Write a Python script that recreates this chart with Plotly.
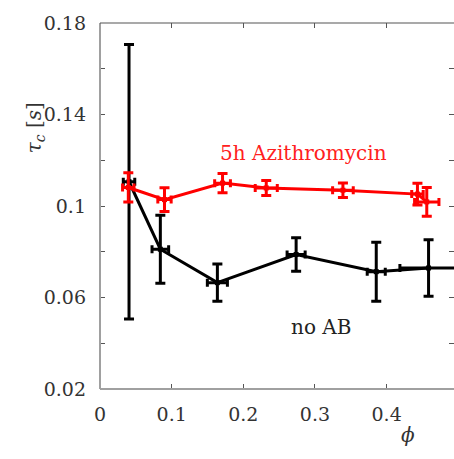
import plotly.graph_objects as go

# 5h Azithromycin (red)
red_phi = [0.0395, 0.090, 0.171, 0.232, 0.339, 0.443, 0.456]
red_tau = [0.1081, 0.1028, 0.1100, 0.1079, 0.1069, 0.1052, 0.1018]
red_ephi = [0.008, 0.0093, 0.011, 0.0154, 0.0144, 0.008, 0.017]
red_etau = [0.0064, 0.0052, 0.0042, 0.0033, 0.0032, 0.0048, 0.0063]

# no AB (black)
blk_phi = [0.0405, 0.0842, 0.1638, 0.2737, 0.3855, 0.4585]
blk_tau = [0.1106, 0.0811, 0.0665, 0.0788, 0.0713, 0.0729]
blk_ephi = [0.008, 0.0116, 0.014, 0.0126, 0.0126, 0.040]
blk_etau = [0.060, 0.0149, 0.0081, 0.0073, 0.0129, 0.0124]

y_ticks = [0.02, 0.06, 0.10, 0.14, 0.18]
y_ticktext = ["0.02", "0.06", "0.1", "0.14", "0.18"]
x_ticks = [0, 0.1, 0.2, 0.3, 0.4]
x_ticktext = ["0", "0.1", "0.2", "0.3", "0.4"]

FONT = "DejaVu Serif"

fig = go.Figure()
fig.add_trace(go.Scatter(
    x=blk_phi, y=blk_tau, mode="lines+markers",
    line=dict(color="black", width=3),
    marker=dict(color="black", size=5, symbol="square"),
    error_x=dict(type="data", array=blk_ephi, color="black", thickness=3, width=4),
    error_y=dict(type="data", array=blk_etau, color="black", thickness=3, width=5),
    showlegend=False,
))
fig.add_trace(go.Scatter(
    x=red_phi, y=red_tau, mode="lines+markers",
    line=dict(color="#ff0000", width=3),
    marker=dict(color="#ff0000", size=5, symbol="square"),
    error_x=dict(type="data", array=red_ephi, color="#ff0000", thickness=3, width=4),
    error_y=dict(type="data", array=red_etau, color="#ff0000", thickness=3, width=5),
    showlegend=False,
))

fig.add_annotation(x=0.284, y=0.1232, xref="x", yref="y", text="5h Azithromycin",
                   showarrow=False, font=dict(family=FONT, size=20, color="#ff2020"))
fig.add_annotation(x=0.309, y=0.047, xref="x", yref="y", text="no AB",
                   showarrow=False, font=dict(family=FONT, size=20, color="#222"))
fig.add_annotation(x=-0.226, y=0.79, xref="paper", yref="paper",
                   text="<i>τ</i><sub><i>c</i></sub> [<i>s</i>]", textangle=-90,
                   showarrow=False, font=dict(family=FONT, size=20, color="#333"))
fig.add_annotation(x=0.8955, y=-0.163, xref="paper", yref="paper", text="<i>ϕ</i>",
                   showarrow=False, font=dict(family=FONT, size=20, color="#333"))

# frame lines
fig.add_shape(type="line", xref="paper", yref="paper", x0=0, x1=0, y0=0, y1=1,
              line=dict(color="#a0a0a0", width=2))
fig.add_shape(type="line", xref="paper", yref="paper", x0=0, x1=1, y0=0, y1=0,
              line=dict(color="#a0a0a0", width=2))
fig.add_shape(type="line", xref="paper", yref="paper", x0=0, x1=1, y0=1, y1=1,
              line=dict(color="#555", width=1.2))

fig.update_layout(
    width=454, height=459,
    margin=dict(l=100, r=0, t=23, b=70),
    paper_bgcolor="white", plot_bgcolor="white",
    font=dict(family=FONT, size=19, color="#333"),
    xaxis=dict(range=[0, 0.494], tickvals=x_ticks, ticktext=x_ticktext,
               ticks="inside", ticklen=5, tickcolor="#555", tickwidth=1,
               mirror="ticks", showline=False, showgrid=False, zeroline=False,
               ticklabelstandoff=12),
    yaxis=dict(range=[0.02, 0.18], tickvals=y_ticks, ticktext=y_ticktext,
               ticks="inside", ticklen=5, tickcolor="#555", tickwidth=1,
               minor=dict(ticks="inside", dtick=0.02, tick0=0.02, ticklen=5,
                          tickcolor="#555", tickwidth=1, showgrid=False),
               mirror="ticks", showline=False, showgrid=False, zeroline=False,
               ticklabelstandoff=13),
)

fig.write_html("out.html")
